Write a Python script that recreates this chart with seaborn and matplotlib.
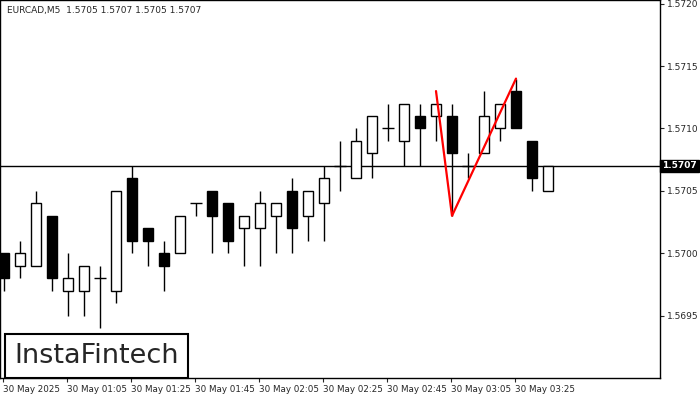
import matplotlib
matplotlib.use("Agg")
import matplotlib.pyplot as plt
import seaborn as sns
import numpy as np

sns.set_style("white")
plt.rcParams['font.family'] = ['DejaVu Sans']

opens  = [1.5700,1.5699,1.5699,1.5703,1.5697,1.5697,1.5698,1.5697,1.5706,1.5702,1.5700,1.5700,1.5704,1.5705,1.5704,1.5702,1.5702,1.5703,1.5705,1.5703,1.5704,1.5707,1.5706,1.5708,1.5710,1.5709,1.5711,1.5711,1.5711,1.5707,1.5708,1.5710,1.5713,1.5709,1.5705]
highs  = [1.5700,1.5701,1.5705,1.5703,1.5700,1.5699,1.5699,1.5705,1.5707,1.5702,1.5701,1.5703,1.5704,1.5705,1.5704,1.5703,1.5705,1.5704,1.5706,1.5705,1.5707,1.5709,1.5710,1.5711,1.5712,1.5712,1.5712,1.5712,1.5712,1.5708,1.5713,1.5712,1.5714,1.5709,1.5707]
lows   = [1.5697,1.5698,1.5699,1.5697,1.5695,1.5695,1.5694,1.5696,1.5700,1.5699,1.5697,1.5700,1.5703,1.5700,1.5700,1.5699,1.5699,1.5700,1.5700,1.5701,1.5701,1.5705,1.5706,1.5706,1.5709,1.5707,1.5707,1.5709,1.5703,1.5706,1.5708,1.5709,1.5710,1.5705,1.5705]
closes = [1.5698,1.5700,1.5704,1.5698,1.5698,1.5699,1.5698,1.5705,1.5701,1.5701,1.5699,1.5703,1.5704,1.5703,1.5701,1.5703,1.5704,1.5704,1.5702,1.5705,1.5706,1.5707,1.5709,1.5711,1.5710,1.5712,1.5710,1.5712,1.5708,1.5707,1.5711,1.5712,1.5710,1.5706,1.5707]
pattern_idx = [27, 28, 32]
pattern_px = [1.5713, 1.5703, 1.5714]
time_labels = ["30 May 2025","30 May 01:05","30 May 01:25","30 May 01:45","30 May 02:05",
               "30 May 02:25","30 May 02:45","30 May 03:05","30 May 03:25"]
price_ticks = [1.5695,1.5700,1.5705,1.5710,1.5715,1.5720]
last_price = 1.5707

fig = plt.figure(figsize=(7,4), dpi=100)
ax = fig.add_axes([0, 0.055, 660/700, 0.945])
x = np.arange(len(opens))
ax.set_xlim(-0.25, 41)
ax.set_ylim(1.56900, 1.57203)

ax.axhline(last_price, color='black', lw=1, zorder=1)
ax.vlines(x, lows, highs, color='black', lw=1, zorder=2)
o = np.array(opens); c = np.array(closes)
bot = np.minimum(o, c); hgt = np.abs(c - o)
for i in range(len(x)):
    if hgt[i] < 1e-9:
        ax.hlines(o[i], x[i]-0.35, x[i]+0.35, color='black', lw=1, zorder=3)
    else:
        ax.bar(x[i], hgt[i], bottom=bot[i], width=0.62,
               color='black' if c[i] < o[i] else 'white',
               edgecolor='black', lw=1, zorder=3)
ax.plot(pattern_idx, pattern_px, color='red', lw=1.6, zorder=4)

ax.yaxis.tick_right()
ax.set_yticks(price_ticks)
ax.set_yticklabels([f"{p:.4f}" for p in price_ticks], fontsize=6.5)
ax.tick_params(axis='y', length=3, pad=2, direction='out', right=True)
ax.set_xticks(np.arange(0, 33, 4)-0.06)
ax.set_xticklabels(time_labels, fontsize=6.3, ha='left')
ax.tick_params(axis='x', length=3, pad=2, bottom=True)
for s in ax.spines.values():
    s.set_linewidth(1); s.set_color('black')

ax.text(1.003, last_price, f"{last_price:.4f}", transform=ax.get_yaxis_transform(),
        fontsize=6.5, color='white', va='center', ha='left', fontweight='bold',
        bbox=dict(boxstyle='square,pad=0.2', fc='black', ec='black'))
ax.text(0.01, 0.985, "EURCAD,M5  1.5705 1.5707 1.5705 1.5707", transform=ax.transAxes,
        fontsize=6.5, va='top', ha='left')
ax.text(14/660, 9/378, "InstaFintech", transform=ax.transAxes, fontsize=19.5,
        va='bottom', ha='left', zorder=6,
        bbox=dict(boxstyle='square,pad=0.35', fc='white', ec='black', lw=1.5))

fig.savefig("out.png", dpi=100)
